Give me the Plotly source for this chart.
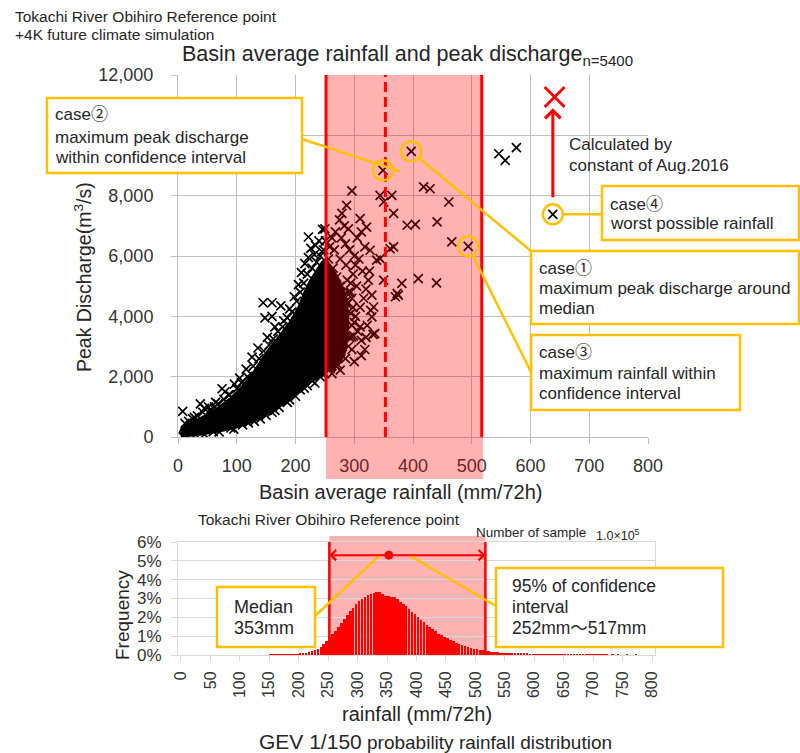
import plotly.graph_objects as go

W, H = 800, 753
ORANGE = "#FFC000"
TXT = "#262626"
FONT = "Liberation Sans, Arial, Noto Sans CJK JP, sans-serif"

def px(x):
    return x / W

def py(y):
    return 1 - y / H

# ---------------- scatter data (rainfall mm/72h, peak discharge m3/s) ----------------
# dense core of the 5400-sample cloud (envelope)
core_upper_rain = [2, 5, 15, 30, 50, 70, 90, 110, 130, 150, 170, 190, 205, 215, 225, 235, 245, 252, 262, 272, 282, 288, 290]
core_upper_peak = [100, 250, 400, 550, 750, 1000, 1300, 1700, 2200, 2800, 3300, 3800, 4300, 4800, 5200, 5500, 5800, 5900, 5600, 5300, 4900, 4400, 3800]
core_lower_rain = [288, 283, 272, 260, 252, 240, 225, 210, 195, 180, 160, 140, 120, 100, 80, 60, 40, 20, 5]
core_lower_peak = [3200, 2700, 2400, 2250, 2150, 2000, 1800, 1550, 1300, 1100, 850, 620, 450, 320, 220, 140, 80, 40, 30]

# individual samples visible around the core and in the sparse part
sample_rain = [8, 20, 28, 38, 45, 52, 58, 64, 75, 80, 86, 96, 105, 116, 126, 136, 145, 160, 175, 148, 160, 152, 165, 180, 190, 198, 205, 210, 216, 222, 226, 222, 234, 240, 246, 250, 232, 245, 251,
               12, 18, 25, 33, 42, 55, 62, 68, 78, 88, 100, 108, 118, 128, 138, 146, 155, 162, 170, 178, 186, 194, 202, 208, 214, 220, 228, 236, 242, 248,
               60, 90, 120, 150, 172, 200, 208, 220, 233, 242, 250, 160, 186, 140, 110, 30, 15, 45, 70, 95, 130, 165, 190, 215, 228, 246,
               255, 258, 262, 266, 270, 274, 278, 282, 286, 290, 294, 298, 302, 300, 292, 285, 278, 268, 262, 258, 256, 264, 270, 276, 282, 288, 294, 300, 306, 312, 318, 310, 316, 320, 324, 314, 308, 318, 305, 290, 275, 283, 312, 326, 330, 328, 322, 332, 320, 296, 285, 272, 262, 300, 312, 292, 280, 268, 296, 304, 286, 276, 266, 256, 256, 260, 264, 270, 258,
               296, 298, 294, 290, 288, 302, 299,
               296, 287, 279, 344, 350, 364, 367, 310, 321, 418, 429, 461, 441, 390, 404, 466, 361, 367, 327, 344, 338, 381, 409, 440, 373, 370, 375, 335, 330, 333, 350, 270, 259, 276, 265, 310, 296, 546, 557, 576,
               397, 349, 494, 638]
sample_peak = [850, 350, 650, 1100, 950, 1000, 800, 1150, 1600, 1500, 1400, 1750, 1950, 2250, 2650, 2950, 4450, 4450, 4350, 3950, 4000, 3300, 3650, 3850, 4250, 4650, 5050, 5450, 5750, 5950, 6250, 6630, 6350, 6500, 6880, 6900, 6050, 6150, 6500,
               450, 520, 600, 700, 820, 900, 1000, 1100, 1250, 1400, 1600, 1800, 2000, 2350, 2600, 2850, 3050, 3250, 3500, 3650, 3950, 4150, 4500, 4800, 5100, 5400, 5600, 5800, 6000, 6200,
               180, 300, 470, 720, 980, 1350, 1560, 1700, 1790, 2000, 2100, 820, 1150, 600, 400, 80, 30, 90, 170, 260, 520, 880, 1230, 1620, 1870, 2080,
               2300, 2600, 2900, 3100, 3300, 3600, 3900, 4200, 4500, 4800, 5100, 5400, 5700, 6000, 6200, 6400, 6600, 6800, 6600, 6300, 5900, 5600, 5300, 5000, 4700, 4400, 4100, 3800, 3500, 3200, 2900, 4300, 4600, 4900, 5200, 5500, 5900, 6300, 6600, 6900, 7200, 7000, 6800, 5500, 4700, 4200, 3700, 3400, 3300, 2900, 2600, 2400, 2100, 2500, 2700, 3300, 3000, 2700, 4600, 5000, 5700, 5900, 6200, 4500, 3800, 3400, 4200, 4800, 5200,
               3700, 4300, 4800, 3000, 5200, 4000, 3350,
               8160, 7680, 7410, 8010, 7790, 8010, 7410, 7240, 6960, 8290, 8230, 7790, 7130, 7020, 7050, 6470, 6240, 6300, 6190, 5910, 5860, 5090, 5250, 5110, 4760, 4650, 4700, 3430, 3980, 4310, 5200, 2330, 2270, 2220, 2770, 3650, 3320, 9390, 9170, 9590,
               9470, 8840, 6320, 7380]

# highlighted cases  (case1, case2, case3, case4)
case_rain = [397, 349, 494, 638]
case_peak = [9470, 8840, 6320, 7380]

# value recalculated with the Aug.2016 constant
calc_rain = [641]
calc_peak = [11270]
calc_arrow_from = 7900
calc_arrow_to = 10900

# confidence interval and median (mm/72h)
ci_low, ci_high, median = 252, 517, 353

# ---------------- GEV 1/150 rainfall distribution (5 mm bins, %) ----------------
bin_left = list(range(150, 800, 5))
freq = [0.01, 0.01, 0.01, 0.02, 0.02, 0.02, 0.03, 0.03, 0.04, 0.05,
        0.07, 0.09, 0.11, 0.14, 0.19, 0.25, 0.33, 0.43, 0.58, 0.75,
        0.95, 1.10, 1.28, 1.48, 1.68, 1.90, 2.10, 2.32, 2.52, 2.70,
        2.85, 2.98, 3.08, 3.17, 3.24, 3.29, 3.33, 3.32, 3.26, 3.15,
        3.12, 3.10, 3.08, 2.95, 2.83, 2.70, 2.58, 2.44, 2.30, 2.16,
        2.00, 1.86, 1.74, 1.60, 1.48, 1.36, 1.25, 1.14, 1.05, 0.96,
        0.88, 0.80, 0.72, 0.65, 0.58, 0.52, 0.46, 0.42, 0.37, 0.34,
        0.31, 0.28, 0.25, 0.22, 0.20, 0.18, 0.16, 0.15, 0.13, 0.12,
        0.11, 0.10, 0.09, 0.08, 0.08, 0.07, 0.06, 0.06, 0.05, 0.05,
        0.05, 0.04, 0.04, 0.04, 0.03, 0.03, 0.03, 0.03, 0.02, 0.02,
        0.02, 0.02, 0.02, 0.02, 0.01, 0.02, 0.01, 0.01, 0.01, 0.01,
        0.01, 0.01, 0.01, 0.01, 0.01, 0.00, 0.01, 0.00, 0.01, 0.00,
        0.00, 0.01, 0.00, 0.00, 0.01, 0.00, 0.00, 0.00, 0.00, 0.00]
bin_center = [b + 2.5 for b in bin_left]
arrow_level = 5.3

x_ticks_top = [0, 100, 200, 300, 400, 500, 600, 700, 800]
y_ticks_top = [0, 2000, 4000, 6000, 8000, 10000, 12000]
y_ticktext_top = ["0", "2,000", "4,000", "6,000", "8,000", "", "12,000"]   # 10,000 hidden under the case2 box
x_ticks_bot = list(range(0, 801, 50))
y_ticks_bot = [0, 1, 2, 3, 4, 5, 6]
y_ticktext_bot = ["0%", "1%", "2%", "3%", "4%", "5%", "6%"]

# ---------------- geometry ----------------
X1_L, X1_R, Y1_T, Y1_B = 178, 648, 75, 437
X2_L, X2_R, Y2_T, Y2_B = 178, 655, 542, 655
XR1 = [0, 800]
YR1 = [0, 12000]
XR2 = [-5, 805]
YR2 = [0, 6]

def d2p(x, y):
    return (X1_L + (x - XR1[0]) / (XR1[1] - XR1[0]) * (X1_R - X1_L),
            Y1_B - (y - YR1[0]) / (YR1[1] - YR1[0]) * (Y1_B - Y1_T))

def d2p2(x, y):
    return (X2_L + (x - XR2[0]) / (XR2[1] - XR2[0]) * (X2_R - X2_L),
            Y2_B - (y - YR2[0]) / (YR2[1] - YR2[0]) * (Y2_B - Y2_T))

fig = go.Figure()

# core cloud
fig.add_trace(go.Scatter(
    x=core_upper_rain + core_lower_rain, y=core_upper_peak + core_lower_peak,
    mode="lines", fill="toself", fillcolor="black",
    line=dict(color="black", width=2), hoverinfo="skip", showlegend=False))
# samples
fig.add_trace(go.Scatter(
    x=sample_rain, y=sample_peak, mode="markers",
    marker=dict(symbol="x-thin", size=9, color="black", line=dict(width=1.7, color="black")),
    showlegend=False))
# recalculated value
fig.add_trace(go.Scatter(
    x=calc_rain, y=calc_peak, mode="markers",
    marker=dict(symbol="x-thin", size=20, color="red", line=dict(width=2.8, color="red")),
    showlegend=False))

# histogram
fig.add_trace(go.Bar(
    x=bin_center, y=freq, xaxis="x2", yaxis="y2", width=4.4,
    marker=dict(color="#FF0000", line=dict(width=0)), showlegend=False))
fig.add_trace(go.Scatter(
    x=[median], y=[arrow_level], xaxis="x2", yaxis="y2", mode="markers",
    marker=dict(color="red", size=9), showlegend=False))

shapes = []
# pink confidence band (top chart), drawn over the points
shapes.append(dict(type="rect", xref="x", yref="paper", x0=ci_low, x1=ci_high + 2,
                   y0=py(479), y1=py(Y1_T), fillcolor="rgba(255,0,0,0.30)",
                   line=dict(width=0), layer="above"))
for xv in (ci_low, ci_high):
    shapes.append(dict(type="line", xref="x", yref="y", x0=xv, x1=xv, y0=YR1[0], y1=YR1[1],
                       line=dict(color="#FF0000", width=3), layer="above"))
shapes.append(dict(type="line", xref="x", yref="y", x0=median, x1=median, y0=YR1[0], y1=YR1[1],
                   line=dict(color="#FF0000", width=3, dash="10px,5px"), layer="above"))
# pink band (histogram)
shapes.append(dict(type="rect", xref="x2", yref="paper", x0=ci_low, x1=ci_high,
                   y0=py(Y2_B), y1=py(536), fillcolor="rgba(255,0,0,0.30)",
                   line=dict(width=0), layer="below"))
for xv in (ci_low, ci_high):
    shapes.append(dict(type="line", xref="x2", yref="y2", x0=xv, x1=xv, y0=0, y1=6,
                       line=dict(color="#FF0000", width=2.5), layer="above"))

# leader lines (pixel -> paper)
def pline(x0, y0, x1, y1):
    shapes.append(dict(type="line", xref="paper", yref="paper", x0=px(x0), y0=py(y0),
                       x1=px(x1), y1=py(y1), line=dict(color=ORANGE, width=2.5), layer="above"))

c1 = d2p(case_rain[0], case_peak[0])
c2 = d2p(case_rain[1], case_peak[1])
c3 = d2p(case_rain[2], case_peak[2])
c4 = d2p(case_rain[3], case_peak[3])
pline(302, 139, c2[0] + 17, c2[1] + 1)
pline(c1[0] + 7, c1[1] + 6, 531, 251)
pline(c3[0] + 4.5, c3[1] + 9, 531, 372)
pline(c4[0] + 10, c4[1], 602, c4[1])
md = d2p2(median, arrow_level)
pline(315, 616, md[0] - 9, md[1])
pline(md[0] + 20, md[1], 496, 606)

# circles around cases
for cx, cy in zip(case_rain, case_peak):
    shapes.append(dict(type="circle", xref="x", yref="y", xsizemode="pixel", ysizemode="pixel",
                       xanchor=cx, yanchor=cy, x0=-10, x1=10, y0=-10, y1=10,
                       line=dict(color=ORANGE, width=2.5), layer="above"))

# boxes
def pbox(x0, y0, x1, y1):
    shapes.append(dict(type="rect", xref="paper", yref="paper", x0=px(x0), y0=py(y1),
                       x1=px(x1), y1=py(y0), fillcolor="white",
                       line=dict(color=ORANGE, width=2.5), layer="above"))

pbox(47, 98, 302, 173)      # case2
pbox(602, 186, 799, 240)    # case4
pbox(531, 251, 799, 324)    # case1
pbox(531, 335, 740, 410)    # case3
pbox(217, 587, 315, 647)    # median
pbox(496, 568, 723, 647)    # 95% CI

annotations = []

def txt(x, y, s, size, anchor="left", color=TXT, angle=0):
    annotations.append(dict(xref="paper", yref="paper", x=px(x), y=py(y), text=s,
                            showarrow=False, xanchor=anchor, yanchor="middle",
                            textangle=angle, font=dict(family=FONT, size=size, color=color)))

txt(13, 17, "Tokachi River Obihiro Reference point", 15.5)
txt(13, 35, "+4K future climate simulation", 15.5)
txt(180, 55, "Basin average rainfall and peak discharge<sub>n=5400</sub>", 21.5)
txt(83, 277, "Peak Discharge(m<sup>3</sup>/s)", 19.5, anchor="center", angle=-90)
txt(400, 492, "Basin average rainfall (mm/72h)", 20, anchor="center")

txt(53, 115, "case②", 17)
txt(53, 137, "maximum peak discharge", 17)
txt(53, 157, "within confidence interval", 17)
txt(608, 204, "case④", 17)
txt(608, 224, "worst possible rainfall", 17)
txt(537, 268, "case①", 17)
txt(537, 288, "maximum peak discharge around", 17)
txt(537, 308, "median", 17)
txt(537, 352, "case③", 17)
txt(537, 373, "maximum rainfall within", 17)
txt(537, 393, "confidence interval", 17)
txt(567, 144, "Calculated by", 17)
txt(567, 165, "constant of Aug.2016", 17)

txt(329, 519, "Tokachi River Obihiro Reference point", 15.5, anchor="center")
txt(474, 532, "Number of sample", 13.5)
txt(594, 535, "1.0×10<sup>5</sup>", 12.5)
txt(122, 615, "Frequency", 19, anchor="center", angle=-90)
txt(232, 607, "Median", 18)
txt(232, 628, "353mm", 18)
txt(510, 586, "95% of confidence", 17.5)
txt(510, 607, "interval", 17.5)
txt(510, 628, "252mm～517mm", 17.5)
txt(417, 714, "rainfall (mm/72h)", 20, anchor="center")
txt(257, 741, "GEV 1/150<span style='font-size:19px'> probability rainfall distribution</span>", 21)

# arrows
annotations.append(dict(xref="x", yref="y", axref="x", ayref="y", x=calc_rain[0] - 3, y=calc_arrow_to,
                        ax=calc_rain[0] - 3, ay=calc_arrow_from, text="", showarrow=True,
                        arrowhead=4, arrowsize=1, arrowwidth=3, arrowcolor="#FF0000"))
for xv in (ci_low, ci_high):
    annotations.append(dict(xref="x2", yref="y2", axref="x2", ayref="y2", x=xv, y=arrow_level,
                            ax=median, ay=arrow_level, text="", showarrow=True,
                            arrowhead=4, arrowsize=1, arrowwidth=2, arrowcolor="#FF0000"))

grid1 = "#BFBFBF"
grid2 = "#D9D9D9"
fig.update_layout(
    width=W, height=H, autosize=False,
    margin=dict(l=0, r=0, t=0, b=0, pad=0, autoexpand=False),
    paper_bgcolor="white", plot_bgcolor="white",
    font=dict(family=FONT, color=TXT),
    showlegend=False,
    bargap=0,
    shapes=shapes, annotations=annotations,
    xaxis=dict(domain=[px(X1_L), px(X1_R)], range=XR1, tickvals=x_ticks_top, automargin=False,
               showgrid=True, gridcolor=grid1, gridwidth=1, zeroline=False,
               showline=True, linecolor=grid1, ticks="outside", ticklen=6, tickcolor=grid1,
               tickfont=dict(size=18, color="#333"), ticklabelstandoff=6, anchor="y"),
    yaxis=dict(domain=[py(Y1_B), py(Y1_T)], range=YR1, tickvals=y_ticks_top, ticktext=y_ticktext_top,
               automargin=False,
               showgrid=True, gridcolor=grid1, gridwidth=1, zeroline=False,
               showline=True, linecolor=grid1, ticks="outside", ticklen=6, tickcolor=grid1,
               tickfont=dict(size=18, color="#333"), ticklabelstandoff=14, anchor="x"),
    xaxis2=dict(domain=[px(X2_L), px(X2_R)], range=XR2, tickvals=x_ticks_bot, tickangle=-90,
                automargin=False,
                showgrid=False, zeroline=False, showline=True, mirror=True, linecolor=grid2,
                ticks="outside", ticklen=5, tickcolor=grid2,
                tickfont=dict(size=16, color="#333"), ticklabelstandoff=4, anchor="y2"),
    yaxis2=dict(domain=[py(Y2_B), py(Y2_T)], range=YR2, tickvals=y_ticks_bot, ticktext=y_ticktext_bot,
                automargin=False,
                showgrid=True, gridcolor=grid2, zeroline=False, showline=True, mirror=True,
                linecolor=grid2, ticks="outside", ticklen=6, tickcolor=grid2,
                tickfont=dict(size=17, color="#333"), ticklabelstandoff=6, anchor="x2"),
)

fig.write_html("out.html", config={"displayModeBar": False},
               post_script="document.body.style.margin='0';document.body.style.overflow='hidden';")
